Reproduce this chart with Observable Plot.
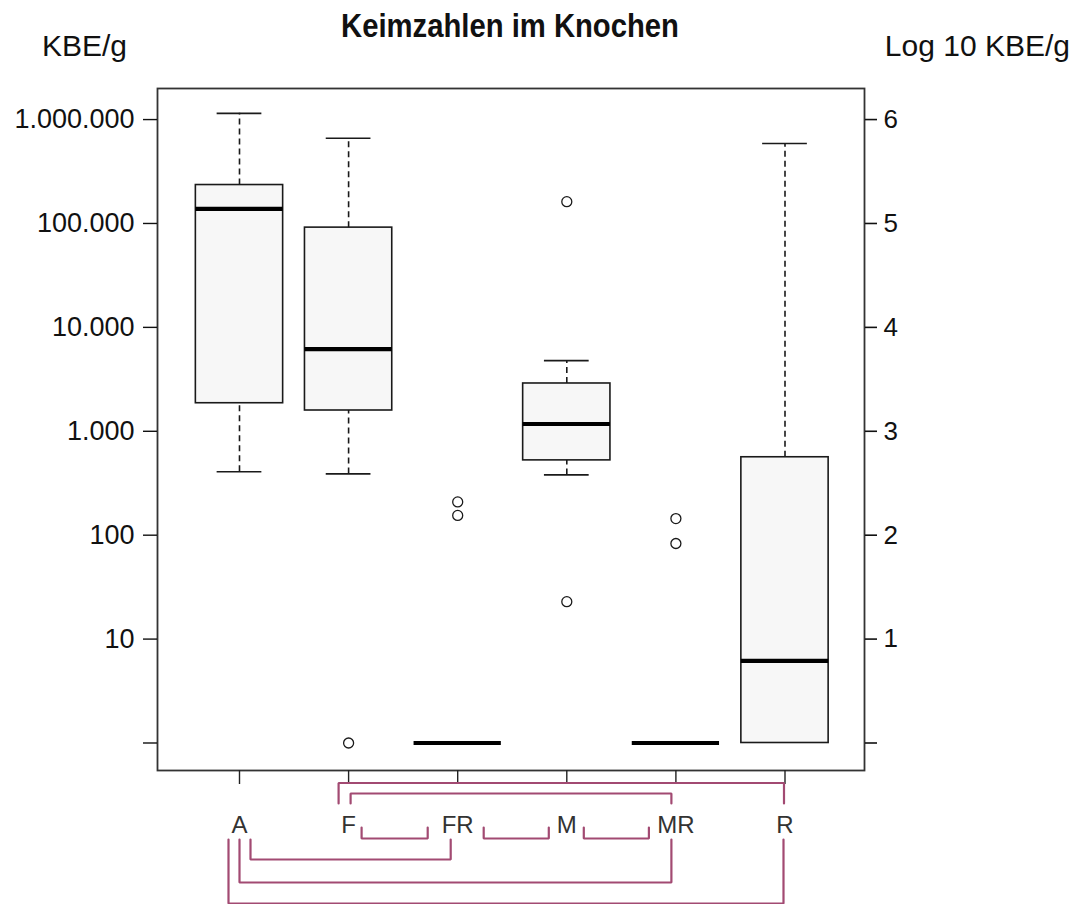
<!DOCTYPE html>
<html>
<head>
<meta charset="utf-8">
<script src="https://cdn.jsdelivr.net/npm/d3@7"></script>
<script src="https://cdn.jsdelivr.net/npm/@observablehq/plot@0.6"></script>
<style>
  html, body { margin: 0; padding: 0; background: #fff; }
  #wrap { position: relative; width: 1080px; height: 904px; font-family: "Liberation Sans", Arial, sans-serif; }
  #wrap svg { display: block; position: absolute; left: 0; top: 0; }
  .lbl { position: absolute; color: #111; line-height: 1; white-space: nowrap; z-index: 2; }
  #title { font-weight: bold; font-size: 34px; top: 8px; left: 510px; transform: translateX(-50%) scaleX(0.86); }
  #ylab { font-size: 30px; top: 31px; left: 42px; }
  #y2lab { font-size: 30px; top: 31px; right: 10px; }
</style>
</head>
<body>
<div id="wrap">
  <div class="lbl" id="title">Keimzahlen im Knochen</div>
  <div class="lbl" id="ylab">KBE/g</div>
  <div class="lbl" id="y2lab">Log 10 KBE/g</div>
</div>
<script>
// ---- data (log10 KBE/g) ----
const categories = ["A", "F", "FR", "M", "MR", "R"];
const whiskerLow  = [2.61, 2.59, 0, 2.58, 0, 0];
const q1          = [3.27, 3.20, 0, 2.72, 0, 0];
const median      = [5.14, 3.79, 0, 3.07, 0, 0.79];
const q3          = [5.37, 4.96, 0, 3.46, 0, 2.75];
const whiskerHigh = [6.06, 5.82, 0, 3.68, 0, 5.77];

const outlierGroup = ["F", "FR", "FR", "M", "M", "MR", "MR"];
const outlierValue = [0, 2.32, 2.19, 5.21, 1.36, 2.16, 1.92];

const yTicks = [0, 1, 2, 3, 4, 5, 6];
const leftTickLabels  = ["", "10", "100", "1.000", "10.000", "100.000", "1.000.000"];
const rightTickLabels = ["", "1", "2", "3", "4", "5", "6"];

// significance brackets (pairs of groups)
const bracketFrom = ["F", "F", "F", "FR", "M", "A", "A", "A"];
const bracketTo   = ["R", "MR", "FR", "M", "MR", "FR", "MR", "R"];

// ---- layout ----
const W = 1080, H = 904;
const mL = 157, mR = 216, mT = 88, mB = 134;
const xDomain = [-0.7516, 5.7287];
const yDomain = [-0.2647, 6.299];
const pxX = (W - mL - mR) / (xDomain[1] - xDomain[0]);
const pxY = (H - mT - mB) / (yDomain[1] - yDomain[0]);
const yFromPx = p => yDomain[0] + ((H - mB) - p) / pxY;   // page px -> y units
const idx = c => categories.indexOf(c);

const boxes = categories.map((c, i) => ({
  c, i, lo: whiskerLow[i], q1: q1[i], med: median[i], q3: q3[i], hi: whiskerHigh[i]
}));
const outliers = outlierGroup.map((g, k) => ({ i: idx(g), v: outlierValue[k] }));

// bracket styles: [dxStart, dxEnd, yBar, yEnds] in px
const bracketStyle = {
  "F-R":   [-10, -1, 782.5, 803],
  "F-MR":  [2, -4.5, 793, 803],
  "F-FR":  [13, -30, 838, 827],
  "FR-M":  [26, -18, 838, 827],
  "M-MR":  [17, -27, 838, 827],
  "A-FR":  [11, -7, 859, 839],
  "A-MR":  [0, -4.5, 882, 839],
  "A-R":   [-11, -1.5, 903, 839]
};
const bracketPts = [];
bracketFrom.forEach((f, k) => {
  const t = bracketTo[k];
  const key = f + "-" + t;
  const [d0, d1, yb, ye] = bracketStyle[key];
  const x0 = idx(f) + d0 / pxX, x1 = idx(t) + d1 / pxX;
  const yB = yFromPx(yb), yE = yFromPx(ye);
  bracketPts.push({ id: key, x: x0, y: yE }, { id: key, x: x0, y: yB },
                  { id: key, x: x1, y: yB }, { id: key, x: x1, y: yE });
});

const halfBox = 0.4, halfCap = 0.205;
const ink = "#1a1a1a";
const purple = "#a24a72";

const chart = Plot.plot({
  width: W, height: H,
  marginLeft: mL, marginRight: mR, marginTop: mT, marginBottom: mB,
  x: { type: "linear", domain: xDomain },
  y: { type: "linear", domain: yDomain },
  style: { fontFamily: "'Liberation Sans', Arial, sans-serif", fontSize: "25px", color: "#111", background: "transparent" },
  marks: [
    Plot.frame({ stroke: "#333", strokeWidth: 1.8 }),
    // whiskers (dashed)
    Plot.ruleX(boxes.filter(d => d.hi > d.q3), { x: "i", y1: "q3", y2: "hi", stroke: ink, strokeWidth: 1.6, strokeDasharray: "6,4" }),
    Plot.ruleX(boxes.filter(d => d.lo < d.q1), { x: "i", y1: "lo", y2: "q1", stroke: ink, strokeWidth: 1.6, strokeDasharray: "6,4" }),
    // caps
    Plot.ruleY(boxes.filter(d => d.hi > d.q3), { y: "hi", x1: d => d.i - halfCap, x2: d => d.i + halfCap, stroke: ink, strokeWidth: 1.6 }),
    Plot.ruleY(boxes.filter(d => d.lo < d.q1), { y: "lo", x1: d => d.i - halfCap, x2: d => d.i + halfCap, stroke: ink, strokeWidth: 1.6 }),
    // boxes
    Plot.rect(boxes.filter(d => d.q3 > d.q1), { x1: d => d.i - halfBox, x2: d => d.i + halfBox, y1: "q1", y2: "q3", fill: "#f7f7f7", stroke: ink, strokeWidth: 1.6 }),
    // medians
    Plot.ruleY(boxes, { y: "med", x1: d => d.i - halfBox, x2: d => d.i + halfBox, stroke: "#000", strokeWidth: 4.2 }),
    // outliers
    Plot.dot(outliers, { x: "i", y: "v", r: 5, stroke: ink, strokeWidth: 1.3, fill: "white" }),
    // axes
    Plot.axisX({ ticks: d3.range(categories.length), tickFormat: i => categories[i], tickSize: 14, tickPadding: 31, fontSize: 24, label: null, stroke: "#222", strokeWidth: 1.4, fill: "#333" }),
    Plot.axisY({ anchor: "left", ticks: yTicks, tickFormat: v => leftTickLabels[v], tickSize: 14, tickPadding: 9, fontSize: 27, label: null, strokeWidth: 1.4 }),
    Plot.axisY({ anchor: "right", ticks: yTicks, tickFormat: v => rightTickLabels[v], tickSize: 12, tickPadding: 7, fontSize: 26, label: null, strokeWidth: 1.6 }),
    // brackets
    Plot.line(bracketPts, { x: "x", y: "y", z: "id", stroke: purple, strokeWidth: 2.2, curve: "linear", strokeLinejoin: "miter" })
  ]
});
document.getElementById("wrap").appendChild(chart);
</script>
</body>
</html>
